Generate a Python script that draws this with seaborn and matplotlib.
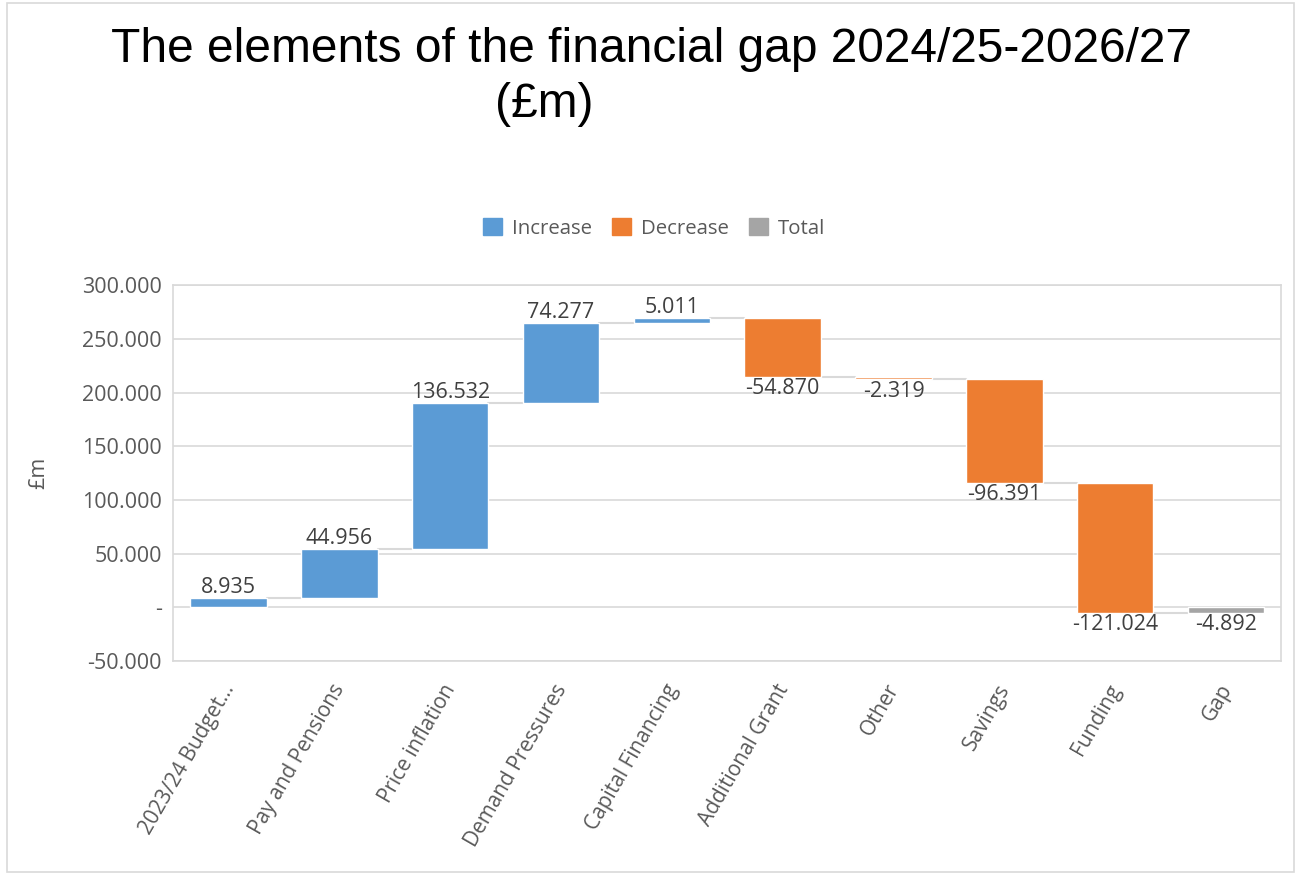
import numpy as np
import pandas as pd
import matplotlib
matplotlib.use("Agg")
import matplotlib.pyplot as plt
import matplotlib.transforms as mtransforms
import seaborn as sns
from matplotlib.patches import Patch, Rectangle

categories = ["2023/24 Budget...", "Pay and Pensions", "Price inflation", "Demand Pressures",
              "Capital Financing", "Additional Grant", "Other", "Savings", "Funding", "Gap"]
values = [8.935, 44.956, 136.532, 74.277, 5.011, -54.870, -2.319, -96.391, -121.024, -4.892]
kinds = ["Increase", "Increase", "Increase", "Increase", "Increase",
         "Decrease", "Decrease", "Decrease", "Decrease", "Total"]
yticks = [-50, 0, 50, 100, 150, 200, 250, 300]

colors = {"Increase": "#5B9BD5", "Decrease": "#ED7D31", "Total": "#A5A5A5"}

# waterfall bases
bottoms = []
ends = []
run = 0.0
for v, k in zip(values, kinds):
    if k == "Total":
        bottoms.append(0.0)
        ends.append(v)
    else:
        bottoms.append(run)
        run += v
        ends.append(run)

df = pd.DataFrame({"cat": categories, "val": values, "kind": kinds, "bottom": bottoms, "end": ends})

sns.set_theme(style="white")
plt.rcParams['font.family'] = ['Open Sans', 'DejaVu Sans']

fig = plt.figure(figsize=(13.01, 8.75), dpi=100)
ax = fig.add_axes([0.133, 0.2446, 0.852, 0.4294])

grid_c = "#D9D9D9"
bw = 0.69
for k in ["Increase", "Decrease", "Total"]:
    sub = df[df["kind"] == k]
    sns.barplot(x=sub["cat"].tolist(), y=sub["val"].tolist(), order=categories,
                bottom=sub["bottom"].to_numpy(), color=colors[k], width=bw,
                saturation=1, ax=ax, zorder=3, errorbar=None)

# connectors
for i in range(len(values) - 1):
    lvl = df["end"].iloc[i]
    ax.plot([i + bw / 2, i + 1 - bw / 2], [lvl, lvl], color=grid_c, lw=1.5, zorder=2)

# data labels
for i, (v, b, e) in enumerate(zip(values, bottoms, ends)):
    if v >= 0:
        ax.annotate(f"{v:.3f}", (i, e), xytext=(0, 0), textcoords="offset points",
                    ha="center", va="bottom", fontsize=15.5, color="#404040")
    else:
        ax.annotate(f"{v:.3f}", (i, min(b, e)), xytext=(0, -1), textcoords="offset points",
                    ha="center", va="top", fontsize=15.5, color="#404040")

ax.set_ylim(-50, 300)
ax.set_xlim(-0.5, len(categories) - 0.5)
ax.set_yticks(yticks)
ax.set_yticklabels(["-" if t == 0 else f"{t:.3f}" for t in yticks], fontsize=15.5, color="#595959")
ax.set_xticks(range(len(categories)))
ax.set_xticklabels(categories, rotation=60, ha="right", rotation_mode="anchor",
                   fontsize=15, color="#595959")
ax.tick_params(axis="y", length=0, pad=8)
ax.tick_params(axis="x", length=0, pad=14)
offset = mtransforms.ScaledTranslation(-8 / 100, 0, fig.dpi_scale_trans)
for lbl in ax.get_xticklabels():
    lbl.set_transform(lbl.get_transform() + offset)
ax.yaxis.grid(True, color=grid_c, lw=1.2, zorder=0)
ax.set_axisbelow(True)
for s in ax.spines.values():
    s.set_color(grid_c)
    s.set_linewidth(1.2)
ax.set_xlabel("")
ax.set_ylabel("£m", fontsize=15.5, color="#595959")
ax.yaxis.set_label_coords(-0.112, 0.5)

# title
fig.text(0.501, 0.944, "The elements of the financial gap 2024/25-2026/27", ha="center", va="center",
         fontsize=34.5, family=["Liberation Sans", "DejaVu Sans"], color="black")
fig.text(0.418, 0.881, "(£m)", ha="center", va="center",
         fontsize=34.5, family=["Liberation Sans", "DejaVu Sans"], color="black")

handles = [Patch(facecolor=colors[k], edgecolor=colors[k], label=k) for k in ["Increase", "Decrease", "Total"]]
leg = fig.legend(handles=handles, loc="center", bbox_to_anchor=(0.503, 0.739), ncol=3, frameon=False,
                 fontsize=14.7, handlelength=0.9, handleheight=0.9, columnspacing=1.0, handletextpad=0.5)
for t in leg.get_texts():
    t.set_color("#595959")

fig.patches.append(Rectangle((0.005, 0.003), 0.99, 0.994, transform=fig.transFigure,
                             fill=False, edgecolor="#D9D9D9", lw=1.2))

fig.savefig("out.png", dpi=100, facecolor="white")
